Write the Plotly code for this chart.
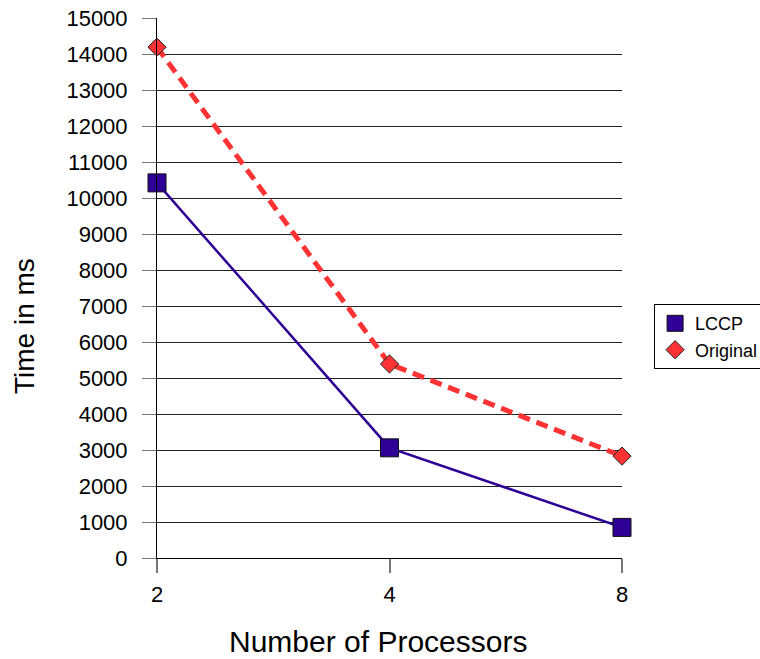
import plotly.graph_objects as go

# Processor counts (category axis) and measured run times in ms
processors = ["2", "4", "8"]
lccp_ms = [10420, 3060, 850]
original_ms = [14190, 5390, 2830]

LCCP_COLOR = "#2E0096"
ORIG_COLOR = "#FF3333"
FONT = "Liberation Sans, Arial, sans-serif"

fig = go.Figure()

# Connecting lines (kept out of the legend so the legend shows markers only)
fig.add_trace(go.Scatter(x=processors, y=original_ms, mode="lines",
                         line=dict(color=ORIG_COLOR, width=5, dash="12px,7px"),
                         showlegend=False, hoverinfo="skip", cliponaxis=False))
fig.add_trace(go.Scatter(x=processors, y=lccp_ms, mode="lines",
                         line=dict(color=LCCP_COLOR, width=2.5),
                         showlegend=False, hoverinfo="skip", cliponaxis=False))

# Markers with legend entries
fig.add_trace(go.Scatter(x=processors, y=lccp_ms, mode="markers", name="LCCP",
                         marker=dict(symbol="square", size=18, color=LCCP_COLOR,
                                     line=dict(color="#111111", width=1)),
                         cliponaxis=False))
fig.add_trace(go.Scatter(x=processors, y=original_ms, mode="markers", name="Original",
                         marker=dict(symbol="diamond", size=14, color=ORIG_COLOR,
                                     line=dict(color="#222222", width=1)),
                         cliponaxis=False))

fig.update_layout(
    width=760, height=659,
    margin=dict(l=157, r=138, t=18, b=101, autoexpand=False),
    paper_bgcolor="white", plot_bgcolor="white",
    font=dict(family=FONT, color="black", size=22),
    showlegend=True,
    legend=dict(x=1.069, y=0.41, xanchor="left", yanchor="middle",
                bordercolor="black", borderwidth=1, bgcolor="white",
                font=dict(size=18, family=FONT), traceorder="normal",
                itemsizing="trace", itemwidth=30),
    xaxis=dict(type="category", range=[0, 2], showgrid=False,
               showline=True, linecolor="black", linewidth=1,
               ticks="outside", ticklen=14, tickcolor="#777777", tickwidth=2,
               tickfont=dict(size=22), ticklabelstandoff=3, zeroline=False),
    yaxis=dict(range=[0, 15000], dtick=1000, tickformat="d", showgrid=True,
               gridcolor="#222222", gridwidth=1,
               showline=True, linecolor="black", linewidth=1,
               ticks="outside", ticklen=14, tickcolor="#777777", tickwidth=1,
               tickfont=dict(size=22), ticklabelstandoff=10, zeroline=False),
    annotations=[
        dict(text="Time in ms", textangle=-90, xref="paper", yref="paper",
             x=(24 - 157) / 465, y=(558 - 326) / 540, xanchor="center",
             yanchor="middle", showarrow=False, font=dict(size=28, family=FONT)),
        dict(text="Number of Processors", xref="paper", yref="paper",
             x=(378 - 157) / 465, y=(558 - 641) / 540, xanchor="center",
             yanchor="middle", showarrow=False, font=dict(size=30, family=FONT)),
    ],
)

fig.write_html("out.html")
